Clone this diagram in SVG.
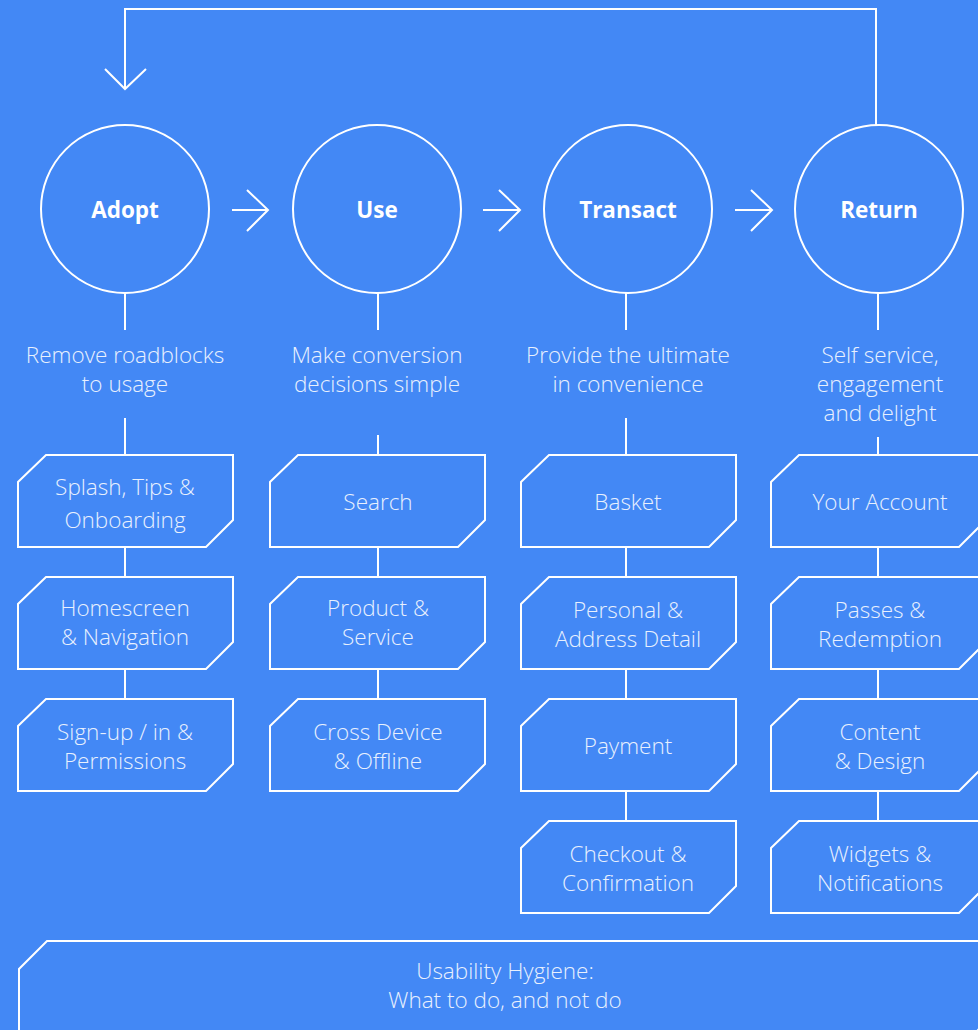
<svg xmlns="http://www.w3.org/2000/svg" width="978" height="1030" viewBox="0 0 978 1030">
<style>
.ln{fill:none;stroke:#fff;stroke-width:2}
.c{fill:none;stroke:#fff;stroke-width:2}
.bx{fill:none;stroke:#fff;stroke-width:2}
.t{font-family:"Open Sans","Liberation Sans",sans-serif;font-size:22.5px;font-weight:bold;fill:#fff;text-anchor:middle}
.s{font-family:"Open Sans","Liberation Sans",sans-serif;font-size:22.5px;font-weight:300;fill:#e8f0fe;text-anchor:middle}
</style>
<rect width="978" height="1030" fill="#4388f5"/>
<g id="connectors">
<polyline class="ln" points="876,125 876,9 125,9 125,89"/>
<polyline class="ln" points="105,69 125,89 146,69"/>
<line class="ln" x1="232" y1="210" x2="268" y2="210"/><polyline class="ln" points="247,190 268,210 247,231"/>
<line class="ln" x1="483" y1="210" x2="520" y2="210"/><polyline class="ln" points="499,190 520,210 499,231"/>
<line class="ln" x1="735" y1="210" x2="772" y2="210"/><polyline class="ln" points="751,190 772,210 751,231"/>
<line class="ln" x1="125" y1="293" x2="125" y2="330"/>
<line class="ln" x1="378" y1="293" x2="378" y2="330"/>
<line class="ln" x1="626" y1="293" x2="626" y2="330"/>
<line class="ln" x1="878" y1="293" x2="878" y2="330"/>
<line class="ln" x1="125" y1="418" x2="125" y2="455"/>
<line class="ln" x1="378" y1="435" x2="378" y2="455"/>
<line class="ln" x1="626" y1="418" x2="626" y2="455"/>
<line class="ln" x1="878" y1="437" x2="878" y2="455"/>
<line class="ln" x1="125" y1="547" x2="125" y2="577"/><line class="ln" x1="125" y1="669" x2="125" y2="699"/>
<line class="ln" x1="378" y1="547" x2="378" y2="577"/><line class="ln" x1="378" y1="669" x2="378" y2="699"/>
<line class="ln" x1="626" y1="547" x2="626" y2="577"/><line class="ln" x1="626" y1="669" x2="626" y2="699"/><line class="ln" x1="626" y1="791" x2="626" y2="821"/>
<line class="ln" x1="878" y1="547" x2="878" y2="577"/><line class="ln" x1="878" y1="669" x2="878" y2="699"/><line class="ln" x1="878" y1="791" x2="878" y2="821"/>
</g>
<g id="adopt"><circle class="c" cx="125" cy="209" r="84"/><text class="t" x="125" y="218">Adopt</text></g>
<g id="use"><circle class="c" cx="377" cy="209" r="84"/><text class="t" x="377" y="218">Use</text></g>
<g id="transact"><circle class="c" cx="628" cy="209" r="84"/><text class="t" x="628" y="218">Transact</text></g>
<g id="return"><circle class="c" cx="879" cy="209" r="84"/><text class="t" x="879" y="218">Return</text></g>
<g id="adopt-desc"><text class="s" x="125" y="363">Remove roadblocks</text><text class="s" x="125" y="392">to usage</text></g>
<g id="use-desc"><text class="s" x="377" y="363">Make conversion</text><text class="s" x="377" y="392">decisions simple</text></g>
<g id="transact-desc"><text class="s" x="628" y="363">Provide the ultimate</text><text class="s" x="628" y="392">in convenience</text></g>
<g id="return-desc"><text class="s" x="880" y="363">Self service,</text><text class="s" x="880" y="392">engagement</text><text class="s" x="880" y="421">and delight</text></g>
<g id="splash"><polygon class="bx" points="46,455 233,455 233,520 206,547 18,547 18,482"/><text class="s" x="125" y="495">Splash, Tips &amp;</text><text class="s" x="125" y="528">Onboarding</text></g>
<g id="homescreen"><polygon class="bx" points="46,577 233,577 233,642 206,669 18,669 18,604"/><text class="s" x="125" y="616">Homescreen</text><text class="s" x="125" y="645">&amp; Navigation</text></g>
<g id="signup"><polygon class="bx" points="46,699 233,699 233,764 206,791 18,791 18,726"/><text class="s" x="125" y="740">Sign-up / in &amp;</text><text class="s" x="125" y="769">Permissions</text></g>
<g id="search"><polygon class="bx" points="298,455 485,455 485,520 458,547 270,547 270,482"/><text class="s" x="378" y="510">Search</text></g>
<g id="product"><polygon class="bx" points="298,577 485,577 485,642 458,669 270,669 270,604"/><text class="s" x="378" y="616">Product &amp;</text><text class="s" x="378" y="645">Service</text></g>
<g id="crossdevice"><polygon class="bx" points="298,699 485,699 485,764 458,791 270,791 270,726"/><text class="s" x="378" y="740">Cross Device</text><text class="s" x="378" y="769">&amp; Offline</text></g>
<g id="basket"><polygon class="bx" points="549,455 736,455 736,520 709,547 521,547 521,482"/><text class="s" x="628" y="510">Basket</text></g>
<g id="personal"><polygon class="bx" points="549,577 736,577 736,642 709,669 521,669 521,604"/><text class="s" x="628" y="618">Personal &amp;</text><text class="s" x="628" y="647">Address Detail</text></g>
<g id="payment"><polygon class="bx" points="549,699 736,699 736,764 709,791 521,791 521,726"/><text class="s" x="628" y="754">Payment</text></g>
<g id="checkout"><polygon class="bx" points="549,821 736,821 736,886 709,913 521,913 521,848"/><text class="s" x="628" y="862">Checkout &amp;</text><text class="s" x="628" y="891">Confirmation</text></g>
<g id="account"><polygon class="bx" points="799,455 986,455 986,520 959,547 771,547 771,482"/><text class="s" x="880" y="510">Your Account</text></g>
<g id="passes"><polygon class="bx" points="799,577 986,577 986,642 959,669 771,669 771,604"/><text class="s" x="880" y="618">Passes &amp;</text><text class="s" x="880" y="647">Redemption</text></g>
<g id="content"><polygon class="bx" points="799,699 986,699 986,764 959,791 771,791 771,726"/><text class="s" x="880" y="740">Content</text><text class="s" x="880" y="769">&amp; Design</text></g>
<g id="widgets"><polygon class="bx" points="799,821 986,821 986,886 959,913 771,913 771,848"/><text class="s" x="880" y="862">Widgets &amp;</text><text class="s" x="880" y="891">Notifications</text></g>
<g id="hygiene"><polygon class="bx" points="47,941 991,941 991,1017 964,1044 19,1044 19,969"/><text class="s" x="505" y="979">Usability Hygiene:</text><text class="s" x="505" y="1008">What to do, and not do</text></g>
</svg>
